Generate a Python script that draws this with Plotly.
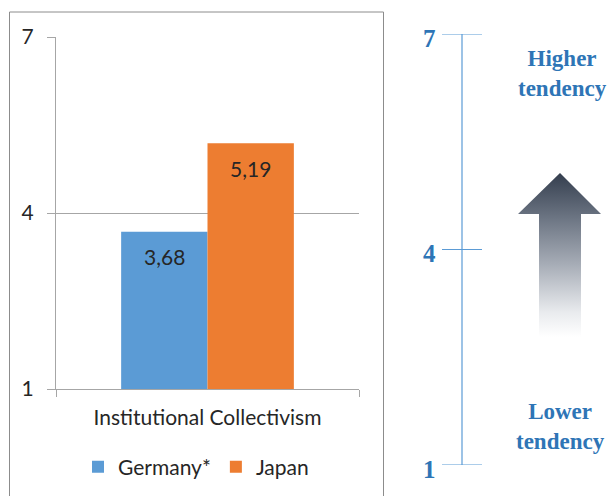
import plotly.graph_objects as go

# ---- data ----
categories = ["Institutional Collectivism"]
series_names = ["Germany*", "Japan"]
germany_values = [3.68]
japan_values = [5.19]
series_colors = ["#5B9BD5", "#ED7D31"]
y_ticks = [1, 4, 7]
scale_ticks = [1, 4, 7]
scale_top_label = "Higher<br>tendency"
scale_bottom_label = "Lower<br>tendency"

W, H = 608, 496
FONT = "Lato"
SERIF = "Liberation Serif"
BLUE_TXT = "#2E75B6"
GRID = "#A6A6A6"

x_dom = [56 / W, 359 / W]
y_dom = [(H - 389) / H, (H - 37) / H]
bargap = 0.43

fig = go.Figure()
for name, vals, col in zip(series_names, [germany_values, japan_values], series_colors):
    fig.add_trace(go.Bar(x=categories, y=vals, name=name, marker=dict(color=col, line=dict(width=0)),
                         xaxis="x", yaxis="y"))

# value labels inside bar tops
plot_w = (x_dom[1] - x_dom[0]) * W
bar_w = plot_w * (1 - bargap) / len(series_names)
for i, vals in enumerate([germany_values, japan_values]):
    for c, v in zip(categories, vals):
        fig.add_annotation(x=c, y=v, xref="x", yref="y", text=f"{v:.2f}".replace(".", ","),
                           showarrow=False, yshift=-25, xshift=(i - 0.5) * bar_w,
                           font=dict(family=FONT, size=21, color="#262626"))

# right-side scale (decorative axis)
fig.add_trace(go.Scatter(x=[0.5, 0.5], y=[min(scale_ticks), max(scale_ticks)], mode="lines",
                         line=dict(color="#5B9BD5", width=1.2), xaxis="x2", yaxis="y2",
                         showlegend=False, hoverinfo="skip"))
for t in scale_ticks:
    fig.add_trace(go.Scatter(x=[0, 1], y=[t, t], mode="lines", line=dict(color="#5B9BD5", width=1.2),
                             xaxis="x2", yaxis="y2", showlegend=False, hoverinfo="skip"))
    fig.add_annotation(x=0, y=t, xref="x2", yref="y2", text=f"<b>{t}</b>", showarrow=False,
                       xanchor="right", xshift=-4, yshift=-4,
                       font=dict(family=SERIF, size=25, color=BLUE_TXT))

# arrow with gradient (decorative, pixel overlay axis)
ax = [560, 601, 581, 581, 539, 539, 518, 560]
ay = [173, 214, 214, 337, 337, 214, 214, 173]
fig.add_trace(go.Scatter(x=ax, y=[H - v for v in ay], fill="toself", mode="lines",
                         line=dict(width=0, color="rgba(0,0,0,0)"),
                         fillgradient=dict(type="vertical",
                                           colorscale=[[0, "rgba(255,255,255,1)"], [0.15, "#e9ebee"],
                                                       [0.45, "#a5abb5"], [0.72, "#6d7684"], [1, "#343e4e"]]),
                         xaxis="x3", yaxis="y3", showlegend=False, hoverinfo="skip"))

fig.add_annotation(x=562 / W, y=(H - 73) / H, xref="paper", yref="paper", text=f"<b>{scale_top_label}</b>",
                   xanchor="center", yanchor="middle",
                   showarrow=False, font=dict(family=SERIF, size=23, color=BLUE_TXT), align="center")
fig.add_annotation(x=560 / W, y=(H - 426) / H, xref="paper", yref="paper", text=f"<b>{scale_bottom_label}</b>",
                   xanchor="center", yanchor="middle",
                   showarrow=False, font=dict(family=SERIF, size=23, color=BLUE_TXT), align="center")

# chart border
fig.add_shape(type="rect", xref="paper", yref="paper", x0=9.5 / W, x1=383.5 / W, y0=-0.05, y1=(H - 12) / H,
              line=dict(color="#8C8C8C", width=1), layer="below")

fig.update_layout(
    width=W, height=H, margin=dict(l=0, r=0, t=0, b=0, pad=0, autoexpand=False),
    paper_bgcolor="white", plot_bgcolor="rgba(0,0,0,0)",
    barmode="group", bargap=bargap, bargroupgap=0,
    separators=", ",
    font=dict(family=FONT, size=21, color="#262626"),
    xaxis=dict(domain=x_dom, showline=True, linecolor=GRID, linewidth=1, ticks="outside",
               tickson="boundaries", ticklen=7, tickcolor=GRID, showgrid=False, automargin=False,
               ticklabelstandoff=10,
               tickfont=dict(family=FONT, size=21, color="#262626"), anchor="y"),
    yaxis=dict(domain=y_dom, range=[1, 7], tickvals=y_ticks, showgrid=True, gridcolor=GRID, gridwidth=1,
               showline=True, linecolor=GRID, ticks="outside", ticklen=8, tickcolor=GRID, automargin=False,
               zeroline=False, tickfont=dict(family=FONT, size=21, color="#262626"),
               ticklabelstandoff=9, anchor="x"),
    xaxis2=dict(domain=[442 / W, 482 / W], range=[0, 1], visible=False, anchor="y2"),
    yaxis2=dict(domain=[(H - 465) / H, (H - 34) / H], range=[1, 7], visible=False, anchor="x2"),
    xaxis3=dict(domain=[0, 1], range=[0, W], visible=False, anchor="y3"),
    yaxis3=dict(domain=[0, 1], range=[0, H], visible=False, anchor="x3"),
    legend=dict(orientation="h", x=196 / W, xanchor="center", y=(H - 467) / H, yanchor="middle",
                font=dict(family=FONT, size=21, color="#262626"), bgcolor="rgba(0,0,0,0)",
                itemwidth=30, tracegroupgap=0),
    showlegend=True,
)

fig.write_html("out.html", config={"displayModeBar": False},
               post_script="document.body.style.margin='0';")
